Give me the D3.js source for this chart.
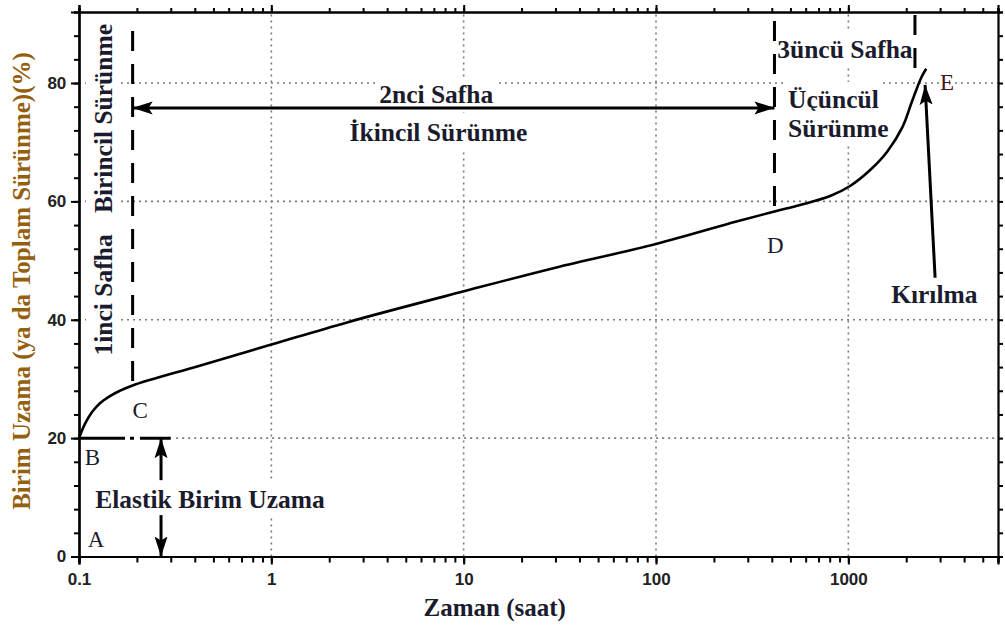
<!DOCTYPE html>
<html><head><meta charset="utf-8">
<script src="https://cdn.jsdelivr.net/npm/d3@7"></script>
<style>
html,body{margin:0;padding:0;background:#fff;}
svg{display:block;}
</style></head>
<body>
<svg id="chart" width="1005" height="637"></svg>
<script>
// Creep curve: total strain (%) against time (hours, log scale)
const creepTime   = [0.1, 0.1074, 0.1169, 0.1285, 0.1449, 0.1633, 0.19, 0.42, 1.0, 2.5, 10, 30, 100, 262, 413, 561, 804, 1021, 1298, 1592, 1908, 2149, 2393, 2541];
const creepStrain = [20, 22.4, 24.4, 25.9, 27.1, 28.0, 28.9, 32.2, 35.8, 39.6, 44.8, 48.8, 52.8, 56.6, 58.3, 59.4, 60.9, 62.6, 65.3, 68.4, 72.5, 77.0, 80.9, 82.4];

const xTickValues = [0.1, 1, 10, 100, 1000];
const xTickLabels = ["0.1", "1", "10", "100", "1000"];
const yTickValues = [0, 20, 40, 60, 80];
const yTickLabels = ["0", "20", "40", "60", "80"];

// Phase boundaries and key points
const elasticStrain = 20;          // A -> B
const tPrimaryEnd = 0.19;          // C
const strainC = 28.9;
const tSecondaryEnd = 413;         // D
const strainD = 58.3;
const tRupture = 2220;             // E
const strainE = 80.5;

const plot = {left: 79, right: 998, top: 12, bottom: 556.5};

const x = d3.scaleLog().domain([0.1, 6000]).range([plot.left, plot.right]);
const y = d3.scaleLinear().domain([0, 92]).range([plot.bottom, plot.top]);

const svg = d3.select("#chart");
const serif = "'Liberation Serif','Times New Roman',serif";
const sans = "'Liberation Sans',Arial,sans-serif";
const ink = "#1b1b2e";
const noteSize = 25.5;

// arrow markers
const defs = svg.append("defs");
defs.append("marker").attr("id", "arrow")
  .attr("markerUnits", "userSpaceOnUse")
  .attr("viewBox", "0 -7 20 14").attr("refX", 20).attr("refY", 0)
  .attr("markerWidth", 20).attr("markerHeight", 14)
  .attr("orient", "auto-start-reverse")
  .append("path").attr("d", "M0,-6.5L20,0L0,6.5L4,0Z").attr("fill", "#000");

// ---- grid ----
const grid = svg.append("g").attr("stroke", "#7a7a7a").attr("stroke-width", 1.6)
  .attr("stroke-dasharray", "2,4").attr("fill", "none");
xTickValues.slice(1).forEach(t => {
  grid.append("line").attr("x1", x(t)).attr("x2", x(t)).attr("y1", plot.bottom).attr("y2", plot.top);
});
yTickValues.slice(1).forEach(v => {
  const x0 = v === elasticStrain ? x(0.32) : plot.left;
  grid.append("line").attr("x1", x0).attr("x2", plot.right).attr("y1", y(v)).attr("y2", y(v));
});

// ---- axes ----
const minorX = x.ticks();
const minorY = d3.range(0, 93, 4);

const gBottom = svg.append("g").attr("transform", `translate(0,${plot.bottom})`);
gBottom.call(d3.axisBottom(x).tickValues(minorX).tickSize(6).tickFormat(""));
gBottom.append("g").call(d3.axisBottom(x).tickValues(xTickValues).tickSize(8)
  .tickFormat((d, i) => xTickLabels[i]));
const gTop = svg.append("g").attr("transform", `translate(0,${plot.top})`);
gTop.call(d3.axisTop(x).tickValues(minorX).tickSize(4).tickFormat(""));
gTop.append("g").call(d3.axisTop(x).tickValues(xTickValues).tickSize(7).tickFormat(""));

const gLeft = svg.append("g").attr("transform", `translate(${plot.left},0)`);
gLeft.call(d3.axisLeft(y).tickValues(minorY).tickSize(5).tickFormat(""));
gLeft.append("g").call(d3.axisLeft(y).tickValues(yTickValues).tickSize(8)
  .tickFormat((d, i) => yTickLabels[i]));
const gRight = svg.append("g").attr("transform", `translate(${plot.right},0)`);
gRight.call(d3.axisRight(y).tickValues(minorY).tickSize(5).tickFormat(""));

svg.selectAll(".domain").attr("stroke", "#000").attr("stroke-width", 2.2);
svg.selectAll(".tick line").attr("stroke", "#000").attr("stroke-width", 2);
svg.selectAll(".tick text").attr("font-family", sans).attr("font-weight", "bold")
  .attr("font-size", 17).attr("fill", "#222");
gBottom.selectAll(".tick text").attr("dy", "1.05em");
gLeft.selectAll(".tick text").attr("dx", "-0.1em");

// axis titles
svg.append("text").attr("x", x(14.5)).attr("y", 616).attr("text-anchor", "middle")
  .attr("font-family", serif).attr("font-weight", "bold").attr("font-size", 25)
  .attr("fill", ink).text("Zaman (saat)");
svg.append("text").attr("transform", `translate(30,${281}) rotate(-90)`)
  .attr("text-anchor", "middle").attr("font-family", serif).attr("font-weight", "bold")
  .attr("font-size", 25).attr("fill", "#94600e")
  .text("Birim Uzama (ya da Toplam Sürünme)(%)");

// ---- annotations with white backing ----
const notes = svg.append("g");
function label(t, v, txt, opts = {}) {
  const g = notes.append("g");
  const rot = opts.rotate ? ` rotate(-90)` : "";
  const tx = g.append("text")
    .attr("transform", `translate(${x(t)},${y(v)})${rot}`)
    .attr("text-anchor", opts.anchor || "start")
    .attr("font-family", serif)
    .attr("font-weight", opts.regular ? "normal" : "bold")
    .attr("font-size", opts.size || noteSize)
    .attr("fill", opts.color || ink)
    .text(txt);
  if (opts.box) {
    const b = tx.node().getBBox();
    const p = 3;
    g.insert("rect", "text")
      .attr("transform", `translate(${x(t)},${y(v)})${rot}`)
      .attr("x", b.x - p).attr("y", b.y - p)
      .attr("width", b.width + 2 * p).attr("height", b.height + 2 * p)
      .attr("fill", "#fff");
  }
  return tx;
}

label(7.2, 76.6, "2nci Safha", {anchor: "middle", box: true});
label(7.4, 70.2, "İkincil Sürünme", {anchor: "middle", box: true});
label(0.1485, 44.2, "1inci Safha", {anchor: "middle", rotate: true, box: true});
label(0.1485, 74, "Birincil Sürünme", {anchor: "middle", rotate: true, box: true});
label(427, 84.2, "3üncü Safha", {box: true});
label(486, 75.8, "Üçüncül", {box: true});
label(486, 70.9, "Sürünme", {box: true});
label(2800, 42.8, "Kırılma", {anchor: "middle", box: true});
label(0.48, 8.2, "Elastik Birim Uzama", {anchor: "middle", box: true});
label(0.111, 1.6, "A", {regular: true, size: 23});
label(0.107, 15.5, "B", {regular: true, size: 23});
label(0.19, 23.4, "C", {regular: true, size: 23});
label(378, 51.3, "D", {regular: true, size: 23});
label(3000, 78.8, "E", {regular: true, size: 23, color: "#4a1518"});

// ---- phase boundaries (dashed) ----
const dashed = svg.append("g").attr("stroke", "#000").attr("stroke-width", 3)
  .attr("stroke-dasharray", "20,13").attr("fill", "none");
dashed.append("line").attr("x1", x(tPrimaryEnd)).attr("x2", x(tPrimaryEnd))
  .attr("y1", y(88.8)).attr("y2", y(strainC));
dashed.append("line").attr("x1", x(tSecondaryEnd)).attr("x2", x(tSecondaryEnd))
  .attr("y1", y(90.5)).attr("y2", y(strainD));
dashed.append("line").attr("x1", x(tRupture)).attr("x2", x(tRupture))
  .attr("y1", y(91.5)).attr("y2", y(strainE));

// elastic strain level (dash-dot)
svg.append("line").attr("x1", x(0.1)).attr("x2", x(0.3))
  .attr("y1", y(elasticStrain)).attr("y2", y(elasticStrain))
  .attr("stroke", "#000").attr("stroke-width", 3).attr("stroke-dasharray", "46,5,4,6");

// ---- creep curve ----
const pts = creepTime.map((t, i) => [t, creepStrain[i]]);
svg.append("path").datum(pts)
  .attr("d", d3.line().x(d => x(d[0])).y(d => y(d[1])).curve(d3.curveCatmullRom.alpha(0.5)))
  .attr("fill", "none").attr("stroke", "#000").attr("stroke-width", 2.6);

// ---- arrows ----
const arrows = svg.append("g").attr("stroke", "#000").attr("stroke-width", 3).attr("fill", "none");
// secondary stage span
arrows.append("line").attr("x1", x(tPrimaryEnd)).attr("x2", x(tSecondaryEnd))
  .attr("y1", y(75.8)).attr("y2", y(75.8))
  .attr("marker-start", "url(#arrow)").attr("marker-end", "url(#arrow)");
// elastic strain span
const tElastic = 0.267;
arrows.append("line").attr("x1", x(tElastic)).attr("x2", x(tElastic))
  .attr("y1", y(12.9)).attr("y2", y(elasticStrain)).attr("marker-end", "url(#arrow)");
arrows.append("line").attr("x1", x(tElastic)).attr("x2", x(tElastic))
  .attr("y1", y(7.0)).attr("y2", y(0)).attr("marker-end", "url(#arrow)");
// rupture pointer
arrows.append("line").attr("x1", x(2826)).attr("x2", x(2506))
  .attr("y1", y(47.1)).attr("y2", y(79.7)).attr("marker-end", "url(#arrow)");
</script>
</body></html>
